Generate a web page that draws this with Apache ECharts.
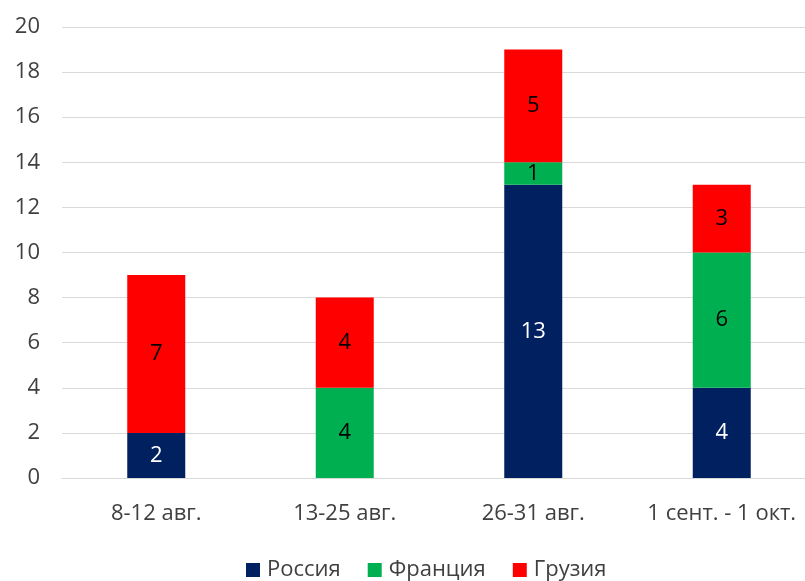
<!DOCTYPE html>
<html><head><meta charset="utf-8">
<script src="https://cdn.jsdelivr.net/npm/echarts@6/dist/echarts.min.js"></script>
<style>html,body{margin:0;padding:0;background:#fff}#c{width:805px;height:581px}</style>
</head><body><div id="c"></div>
<script>
var categories = ["8-12 авг.", "13-25 авг.", "26-31 авг.", "1 сент. - 1 окт."];
var russia = [2, 0, 13, 4];
var france = [0, 4, 1, 6];
var georgia = [7, 4, 5, 3];
var seriesNames = ["Россия", "Франция", "Грузия"];
var colors = ["#002060", "#00B050", "#FF0000"];
var labelColors = ["#ffffff", "#000000", "#000000"];
var FONT = "Open Sans";
var FS = 22;
var chart = echarts.init(document.getElementById('c'));
function mk(i, data) {
  return {
    name: seriesNames[i], type: 'bar', stack: 'a', data: data, barWidth: 58,
    itemStyle: { color: colors[i] },
    label: { show: true, position: 'inside', color: labelColors[i], fontFamily: FONT, fontSize: FS,
      formatter: function (p) { return p.value === 0 ? '' : p.value; } }
  };
}
chart.setOption({
  animation: false,
  textStyle: { fontFamily: FONT },
  grid: { left: 62, top: 27, width: 754, height: 451, containLabel: false, outerBoundsMode: 'none' },
  legend: { top: 554, left: 241, itemWidth: 14, itemHeight: 14, itemGap: 27, icon: 'rect',
    textStyle: { fontSize: 22, color: '#404040', fontFamily: FONT, padding: [0, 0, 0, 2] } },
  xAxis: { type: 'category', data: categories,
    axisLine: { lineStyle: { color: '#d9d9d9' } }, axisTick: { show: false },
    axisLabel: { fontSize: FS, color: '#404040', margin: 25, fontFamily: FONT, interval: 0, hideOverlap: false } },
  yAxis: { type: 'value', min: 0, max: 20, interval: 2,
    splitLine: { lineStyle: { color: '#d9d9d9' } },
    axisLabel: { fontSize: FS, color: '#404040', margin: 22, fontFamily: FONT } },
  series: [mk(0, russia), mk(1, france), mk(2, georgia)]
});
</script></body></html>
